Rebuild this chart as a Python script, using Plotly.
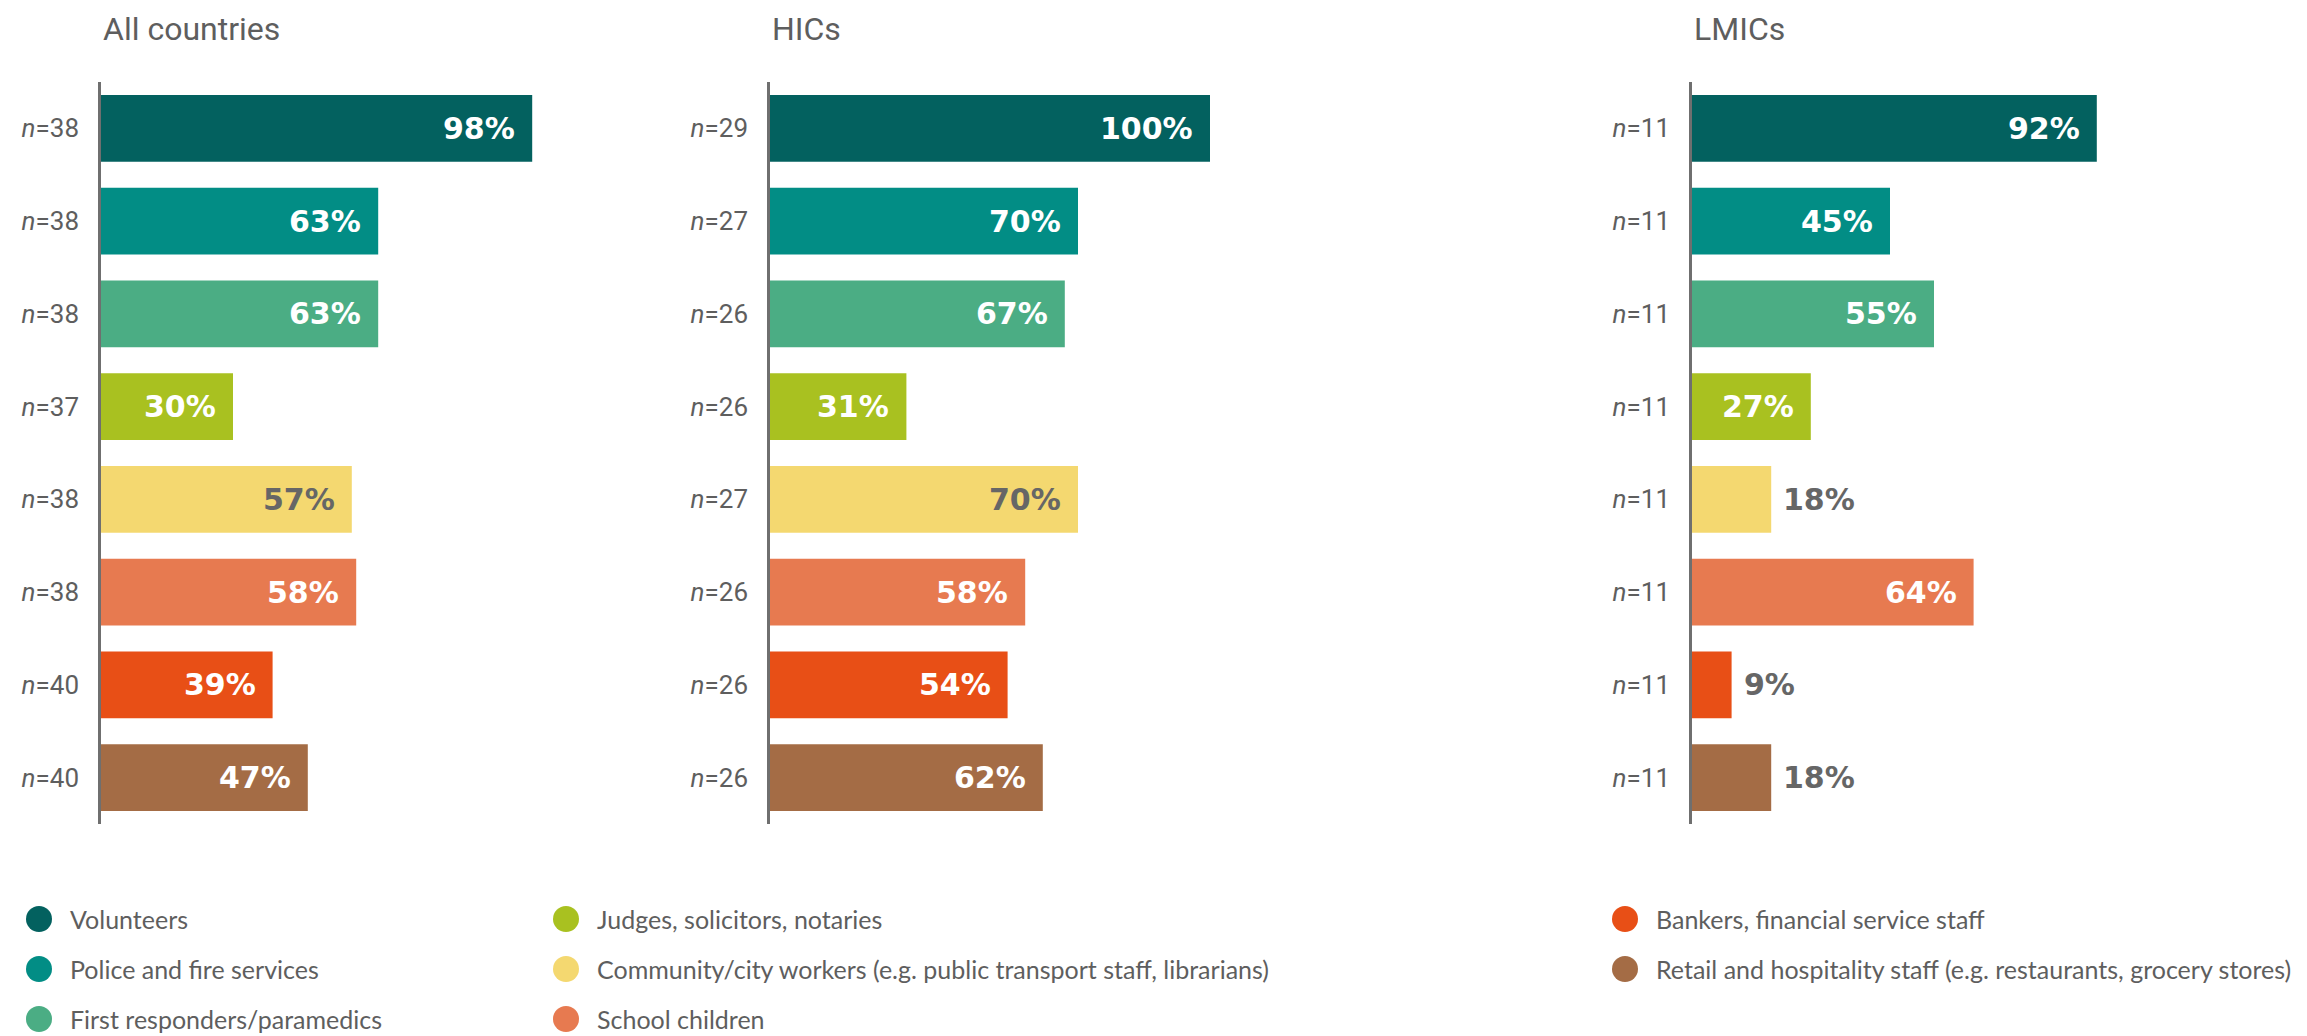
import plotly.graph_objects as go

W, H = 2307, 1036

groups = [
    "Volunteers",
    "Police and fire services",
    "First responders/paramedics",
    "Judges, solicitors, notaries",
    "Community/city workers (e.g. public transport staff, librarians)",
    "School children",
    "Bankers, financial service staff",
    "Retail and hospitality staff (e.g. restaurants, grocery stores)",
]
colors = ["#03615F", "#028D85", "#4BAD84", "#A9C120", "#F4D870",
          "#E77A50", "#E84F16", "#A46C45"]
# label colour used when the value sits inside the bar
inside_label = ["white", "white", "white", "white", "#666666",
                "white", "white", "white"]

panel_titles = ["All countries", "HICs", "LMICs"]
all_pct = [98, 63, 63, 30, 57, 58, 39, 47]
all_n = [38, 38, 38, 37, 38, 38, 40, 40]
hic_pct = [100, 70, 67, 31, 70, 58, 54, 62]
hic_n = [29, 27, 26, 26, 27, 26, 26, 26]
lmic_pct = [92, 45, 55, 27, 18, 64, 9, 18]
lmic_n = [11, 11, 11, 11, 11, 11, 11, 11]

panels = [(all_pct, all_n), (hic_pct, hic_n), (lmic_pct, lmic_n)]

# pixel layout helpers
axis_left_px = [101, 770, 1692]
panel_w_px = 480
px_per_pct = 4.40
y_top_px, y_bot_px = 82, 824

grey = "#5e5e5e"
fig = go.Figure()
layout = dict(
    width=W, height=H,
    margin=dict(l=0, r=0, t=0, b=0),
    paper_bgcolor="white", plot_bgcolor="white",
    showlegend=False, bargap=0.28,
)
annotations = []

for i, (pct, ns) in enumerate(panels):
    k = "" if i == 0 else str(i + 1)
    fig.add_trace(go.Bar(
        x=pct, y=groups, orientation="h",
        marker=dict(color=colors, line=dict(width=0)),
        xaxis="x" + k, yaxis="y" + k, hoverinfo="x+y",
    ))
    x0 = axis_left_px[i] / W
    x1 = (axis_left_px[i] + panel_w_px) / W
    layout["xaxis" + k] = dict(
        domain=[x0, x1], range=[0, panel_w_px / px_per_pct],
        visible=False, anchor="y" + k,
    )
    layout["yaxis" + k] = dict(
        domain=[1 - y_bot_px / H, 1 - y_top_px / H],
        type="category", categoryorder="array", categoryarray=groups,
        range=[len(groups) - 0.5, -0.5],
        tickvals=groups, ticktext=[f"<i>n</i>={n}" for n in ns],
        tickfont=dict(family="Roboto", size=26, color=grey),
        ticks="", ticklabelstandoff=14,
        showline=True, linecolor="#6f6f6f", linewidth=2.5,
        showgrid=False, zeroline=False, anchor="x" + k,
    )
    annotations.append(dict(
        text=panel_titles[i], xref="paper", yref="paper",
        x=x0, y=1 - 29 / H, xanchor="left", yanchor="middle",
        showarrow=False, font=dict(family="Roboto", size=32, color=grey),
    ))
    for j, (g, v) in enumerate(zip(groups, pct)):
        inside = v >= 25
        annotations.append(dict(
            text=f"{v}%", x=v, y=g, xref="x" + k, yref="y" + k,
            xanchor="right" if inside else "left",
            xshift=-15 if inside else 10,
            yanchor="middle", showarrow=False,
            font=dict(family="DejaVu Sans", size=30, weight="bold",
                      color=inside_label[j] if inside else "#666666"),
        ))

# legend: three columns of circles + labels
col_circle_px = [39, 566, 1625]
row_y_px = [919, 969, 1019]
cols = [[0, 1, 2], [3, 4, 5], [6, 7]]
shapes = []
r = 13
for c, idxs in enumerate(cols):
    for row, gi in enumerate(idxs):
        cx, cy = col_circle_px[c], row_y_px[row]
        shapes.append(dict(
            type="circle", xref="paper", yref="paper",
            x0=(cx - r) / W, x1=(cx + r) / W,
            y0=1 - (cy + r) / H, y1=1 - (cy - r) / H,
            fillcolor=colors[gi], line=dict(width=0),
        ))
        annotations.append(dict(
            text=groups[gi], xref="paper", yref="paper",
            x=(cx + 29) / W, y=1 - cy / H, xanchor="left", yanchor="middle",
            showarrow=False, font=dict(family="Lato", size=25, color=grey),
        ))

layout["annotations"] = annotations
layout["shapes"] = shapes
fig.update_layout(**layout)
# drop the browser's default body margin so the figure sits at (0, 0)
fig.write_html("out.html", config={"displayModeBar": False},
               post_script="document.body.style.margin='0';document.body.style.overflow='hidden';")
